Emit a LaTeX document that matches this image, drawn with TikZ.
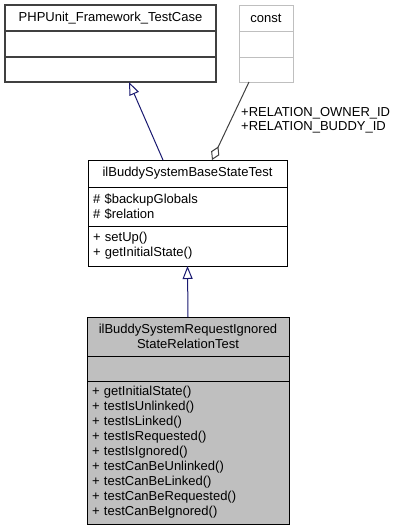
\documentclass[tikz,border=0pt]{standalone}
\usepackage{fontspec}
\setmainfont{Liberation Sans}
\usepackage{tikz}
\usetikzlibrary{arrows.meta}
\usetikzlibrary{positioning}
\usetikzlibrary{calc}
\definecolor{inheritblue}{HTML}{191970}
\definecolor{darkedge}{HTML}{404040}
\definecolor{lightedge}{HTML}{BFBFBF}
\tikzset{class part/.style={draw=black, rectangle, line width=1pt, inner xsep=5pt, inner ysep=0pt, outer sep=0pt, align=left, anchor=north}}
\tikzset{class title/.style={class part, align=center, anchor=north west}}
\tikzset{inherit/.style={draw=inheritblue, line width=1pt, -{Triangle[open, length=13pt, width=10pt]}}}
\tikzset{member/.style={draw=darkedge, line width=1pt, -{Diamond[open, length=15pt, width=9pt]}}}

\begin{document}
\begin{tikzpicture}[x=1pt, y=-1pt, node distance=0pt, font=\fontsize{13}{15}\selectfont]
\useasboundingbox (0,0) rectangle (401,531);
\node[class title, draw=darkedge, line width=1.4pt, text width=201pt, minimum height=26pt] at (5,5) (phptitle) {PHPUnit\_Framework\_TestCase};
\node[class part, draw=darkedge, line width=1.4pt, text width=201pt, minimum height=26pt, below=of phptitle] (phpattr) {};
\node[class part, draw=darkedge, line width=1.4pt, text width=201pt, minimum height=25pt, below=of phpattr] (phpmeth) {};
\node[class title, draw=lightedge, text width=44pt, minimum height=26pt] at (239,5) (consttitle) {const};
\node[class part, draw=lightedge, text width=44pt, minimum height=26pt, below=of consttitle] (constattr) {};
\node[class part, draw=lightedge, text width=44pt, minimum height=25pt, below=of constattr] (constmeth) {};
\node[class title, text width=189pt, minimum height=27pt] at (88,160) (basetitle) {ilBuddySystemBaseStateTest};
\node[class part, text width=189pt, minimum height=39pt, below=of basetitle] (baseattr) {\# \$backupGlobals\\\# \$relation};
\node[class part, text width=189pt, minimum height=40pt, below=of baseattr] (basemeth) {+ setUp()\\+ getInitialState()};
\node[class title, fill=lightedge, text width=192pt, minimum height=39pt] at (87,317) (dertitle) {ilBuddySystemRequestIgnored\\StateRelationTest};
\node[class part, fill=lightedge, text width=192pt, minimum height=25pt, below=of dertitle] (derattr) {};
\node[class part, fill=lightedge, text width=192pt, minimum height=143pt, below=of derattr] (dermeth) {+ getInitialState()\\+ testIsUnlinked()\\+ testIsLinked()\\+ testIsRequested()\\+ testIsIgnored()\\+ testCanBeUnlinked()\\+ testCanBeLinked()\\+ testCanBeRequested()\\+ testCanBeIgnored()};
\node[anchor=west, align=left, inner sep=0pt, font=\fontsize{13}{14}\selectfont] at (241,120) (rellabel) {+RELATION\_OWNER\_ID\\+RELATION\_BUDDY\_ID};
\draw[inherit] ($(basetitle.north west)+(75,0)$) -- ($(phpmeth.south west)+(124,0)$);
\draw[inherit] (dertitle.north) -- (basemeth.south);
\draw[member] ($(constmeth.south west)+(10,0)$) -- ($(basetitle.north west)+(124,0)$);
\end{tikzpicture}
\end{document}
